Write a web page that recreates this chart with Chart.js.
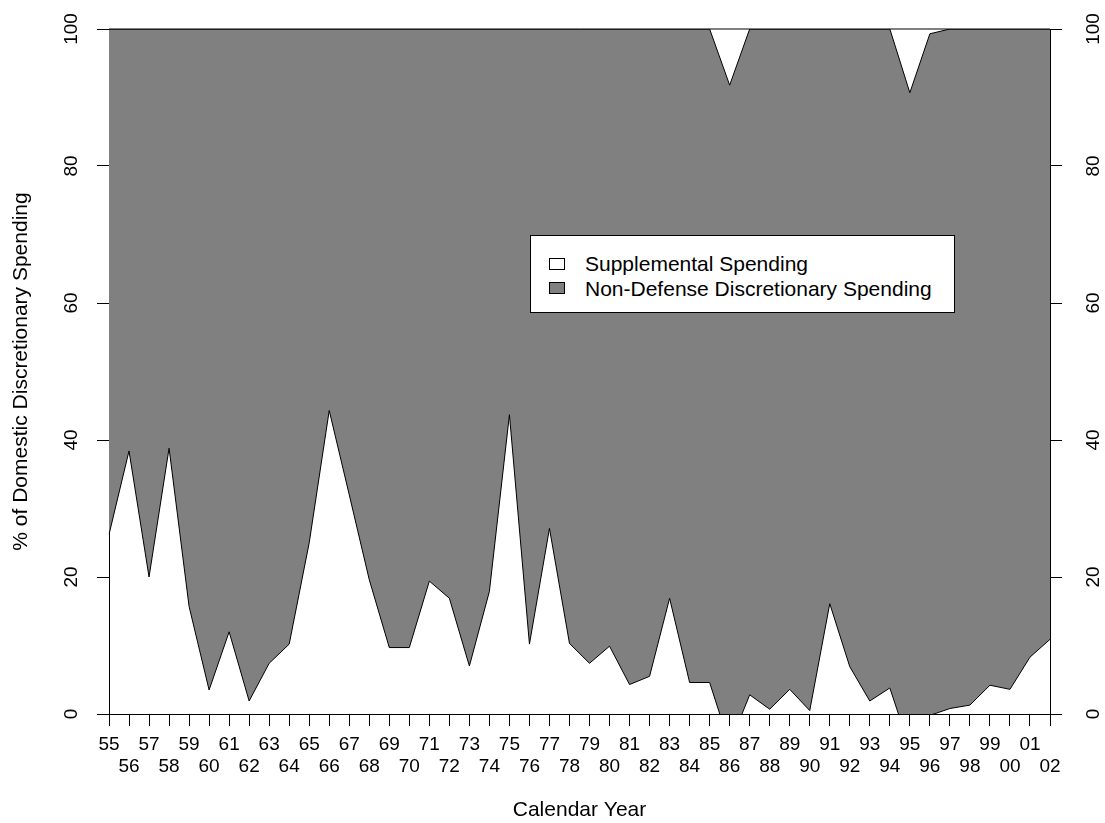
<!DOCTYPE html>
<html>
<head>
<meta charset="utf-8">
<script src="https://cdn.jsdelivr.net/npm/chart.js@4.4.1/dist/chart.umd.min.js"></script>
<style>
    body { margin: 0; background: #fff; }
    #wrap { position: relative; width: 1105px; height: 823px; }
    #legend {
        position: absolute; left: 530px; top: 235px; width: 423px; height: 76px;
        border: 1px solid #000; background: #fff;
        font-family: 'Liberation Sans', Arial, sans-serif; font-size: 21px; color: #000;
    }
    #legend .swatch { position: absolute; left: 18px; width: 16px; height: 12px; box-sizing: border-box; border: 1px solid #000; }
    #legend .label { position: absolute; left: 54px; line-height: 24px; white-space: nowrap; }
</style>
</head>
<body>
<div id="wrap">
    <canvas id="budgetChart" width="1105" height="823"></canvas>
    <div id="legend">
        <div class="swatch" style="top:22px;background:#fff;"></div>
        <div class="label" style="top:16px;">Supplemental Spending</div>
        <div class="swatch" style="top:46px;background:#808080;"></div>
        <div class="label" style="top:41px;">Non-Defense Discretionary Spending</div>
    </div>
</div>
<script>
// calendar years 1955 - 2002
const years = ['55', '56', '57', '58', '59', '60', '61', '62', '63', '64',
    '65', '66', '67', '68', '69', '70', '71', '72', '73', '74',
    '75', '76', '77', '78', '79', '80', '81', '82', '83', '84',
    '85', '86', '87', '88', '89', '90', '91', '92', '93', '94',
    '95', '96', '97', '98', '99', '00', '01', '02'];

// supplemental spending, % of domestic discretionary (bottom band)
const supplementalPct = [26.2, 38.4, 20.0, 38.8, 15.7, 3.5, 12.0, 1.9, 7.4, 10.2,
    25.0, 44.3, 32.0, 19.6, 9.7, 9.7, 19.4, 16.9, 7.0, 17.9,
    43.7, 10.2, 27.1, 10.3, 7.4, 9.9, 4.3, 5.5, 16.9, 4.6,
    4.6, -4.5, 2.8, 0.7, 3.6, 0.5, 16.1, 6.9, 1.9, 3.8,
    -5.0, -0.2, 0.8, 1.3, 4.2, 3.6, 8.3, 10.9];

// top edge of the non-defense band (supplemental + non-defense)
const nonDefenseTopPct = [100, 100, 100, 100, 100, 100, 100, 100, 100, 100,
    100, 100, 100, 100, 100, 100, 100, 100, 100, 100,
    100, 100, 100, 100, 100, 100, 100, 100, 100, 100,
    100, 91.8, 100, 100, 100, 100, 100, 100, 100, 100,
    90.7, 99.3, 100, 100, 100, 100, 100, 100];

const yTicks = [0, 20, 40, 60, 80, 100];

const fontFamily = "'Liberation Sans', Arial, sans-serif";

// closes the polygon along the 100% line
const topEdgePlugin = {
    id: 'topEdge',
    afterDatasetsDraw(chart) {
        const ctx = chart.ctx;
        const y = chart.scales.y.getPixelForValue(100);
        ctx.save();
        ctx.strokeStyle = '#000';
        ctx.lineWidth = 1;
        ctx.beginPath();
        ctx.moveTo(chart.chartArea.left, y);
        ctx.lineTo(chart.chartArea.right, y);
        ctx.stroke();
        ctx.restore();
    }
};

function yAxis(position, padding, width) {
    return {
        type: 'linear',
        position: position,
        min: 0,
        max: 100,
        afterBuildTicks: function(scale) {
            scale.ticks = yTicks.map(v => ({ value: v }));
        },
        afterFit: function(scale) {
            scale.width = width;
        },
        grid: {
            drawOnChartArea: false,
            drawTicks: true,
            tickLength: 12,
            tickColor: '#000',
            tickWidth: 1
        },
        border: { display: true, color: '#000', width: 1 },
        ticks: {
            minRotation: 90,
            maxRotation: 90,
            crossAlign: 'center',
            padding: padding,
            color: '#000',
            font: { family: fontFamily, size: 19 }
        }
    };
}

const leftAxis = yAxis('left', 9, 109);
leftAxis.title = {
    display: true,
    text: '% of Domestic Discretionary Spending',
    color: '#000',
    padding: { top: 9, bottom: 0 },
    font: { family: fontFamily, size: 21 }
};

const chart = new Chart(document.getElementById('budgetChart'), {
    type: 'line',
    data: {
        labels: years,
        datasets: [{
            label: 'Supplemental Spending',
            data: supplementalPct,
            borderColor: '#000',
            borderWidth: 1,
            backgroundColor: '#fff',
            fill: false,
            pointRadius: 0,
            tension: 0
        }, {
            label: 'Non-Defense Discretionary Spending',
            data: nonDefenseTopPct,
            borderColor: '#000',
            borderWidth: 1,
            backgroundColor: '#808080',
            fill: '-1',
            pointRadius: 0,
            tension: 0
        }]
    },
    options: {
        responsive: false,
        animation: false,
        layout: { padding: { top: 29, left: 0, right: 0, bottom: 0 } },
        scales: {
            x: {
                type: 'category',
                offset: false,
                afterFit: function(scale) {
                    scale.height = 109;
                },
                grid: {
                    drawOnChartArea: false,
                    drawTicks: true,
                    tickLength: 12,
                    tickColor: '#000',
                    tickWidth: 1,
                    offset: false
                },
                border: { display: true, color: '#000', width: 1 },
                ticks: {
                    autoSkip: false,
                    maxRotation: 0,
                    minRotation: 0,
                    padding: 7,
                    color: '#000',
                    font: { family: fontFamily, size: 19, lineHeight: 1.2 },
                    callback: function(value, index) {
                        const lbl = years[index];
                        return index % 2 === 0 ? [lbl, ''] : ['', lbl];
                    }
                },
                title: {
                    display: true,
                    text: 'Calendar Year',
                    color: '#000',
                    padding: { top: 0, bottom: 0 },
                    font: { family: fontFamily, size: 21 }
                }
            },
            y: leftAxis,
            y2: yAxis('right', 16, 55)
        },
        plugins: {
            legend: { display: false },
            tooltip: { enabled: false }
        }
    },
    plugins: [topEdgePlugin]
});
</script>
</body>
</html>
